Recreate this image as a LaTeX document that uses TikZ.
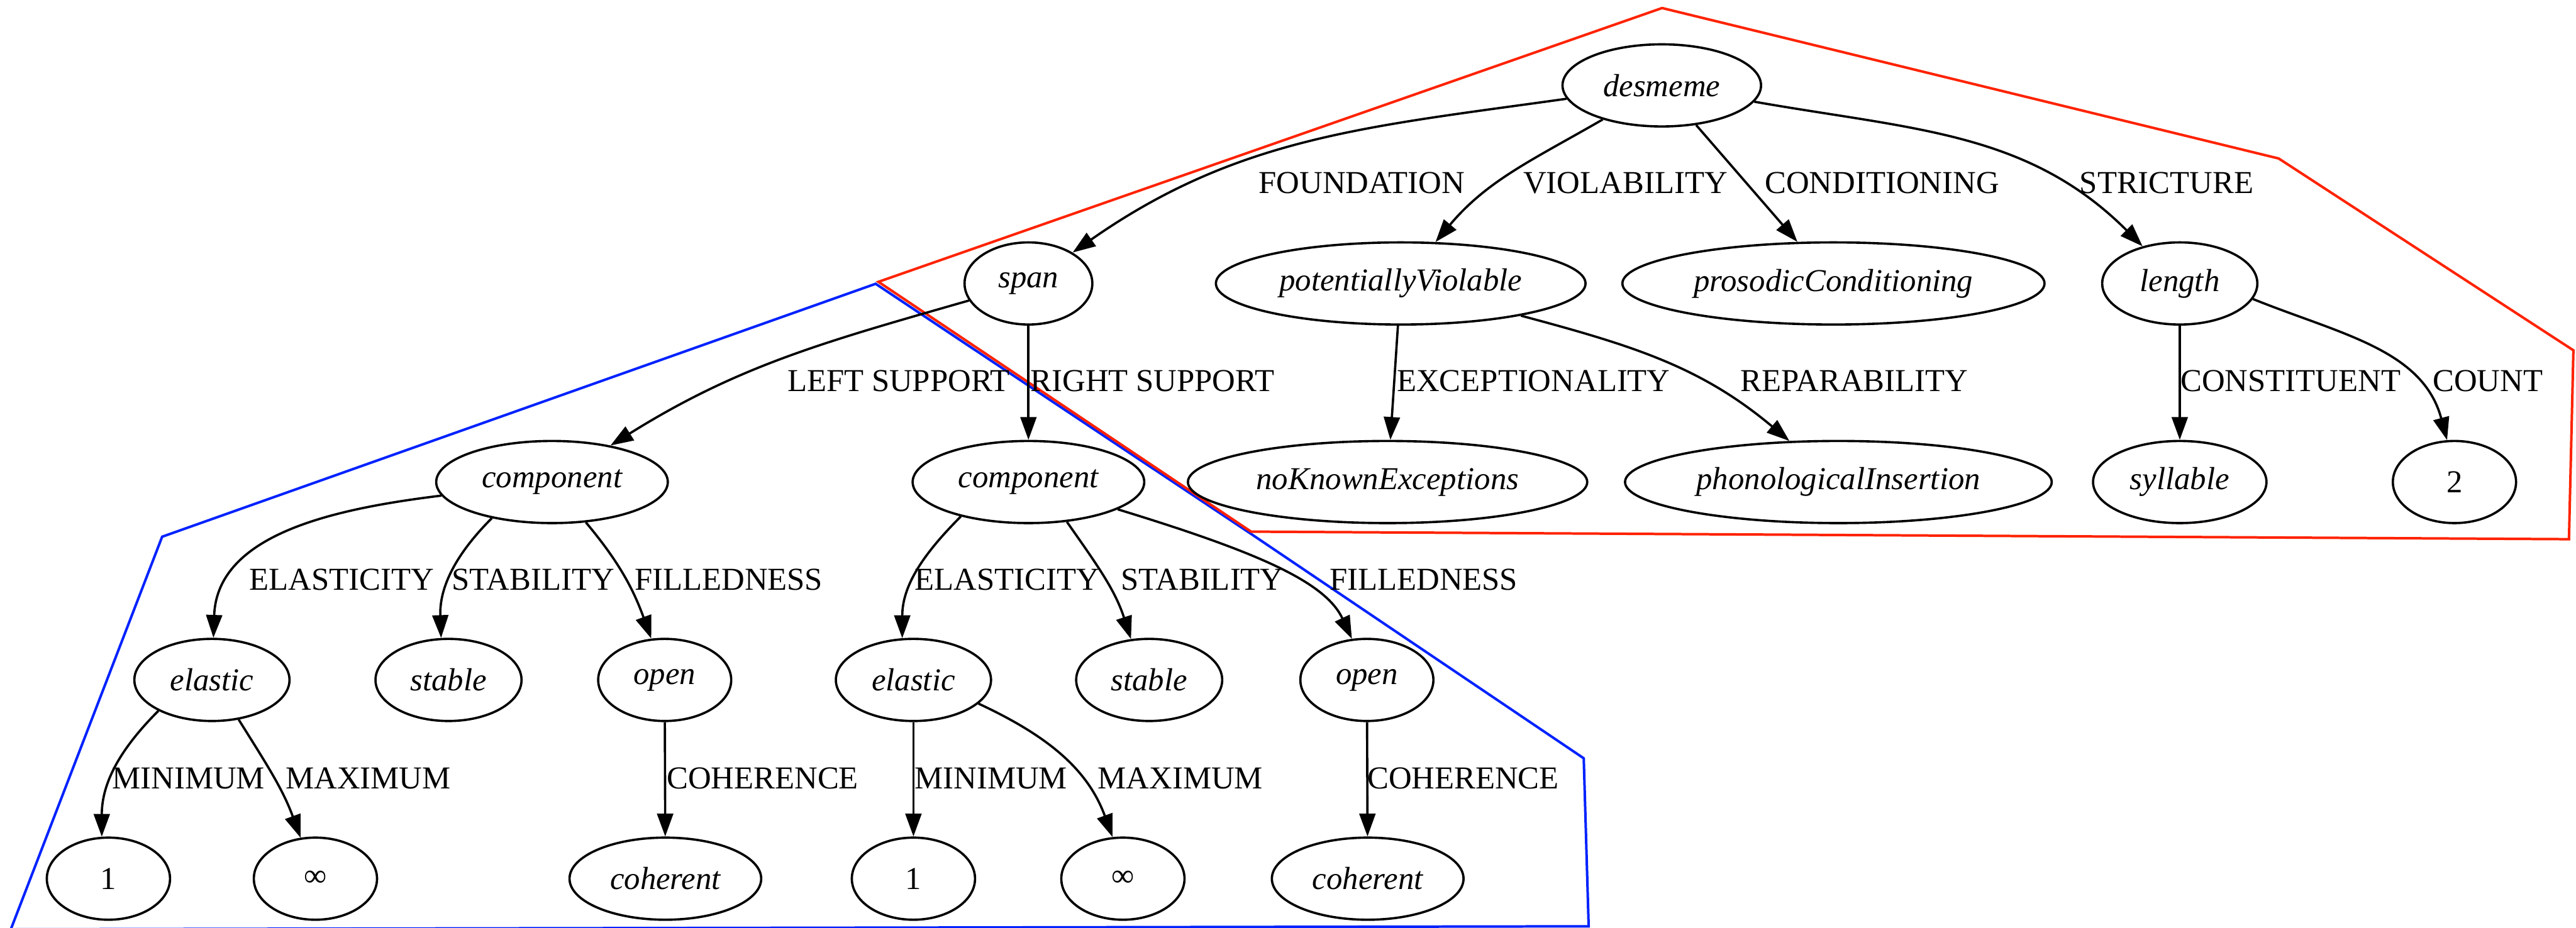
\documentclass[tikz,border=0pt]{standalone}
\usepackage{fontspec}
\setmainfont{Liberation Serif}
\usetikzlibrary{shapes.geometric,arrows.meta}
\definecolor{hullred}{RGB}{255,34,0}
\definecolor{hullblue}{RGB}{0,34,255}

\begin{document}
\begin{tikzpicture}[x=0.72pt,y=0.72pt,font=\fontsize{14}{16}\selectfont,
	ell/.style={ellipse,draw,line width=1pt,inner sep=0pt,minimum height=36pt,font=\fontsize{14}{16}\selectfont\itshape},
	num/.style={ell,font=\fontsize{14}{16}\selectfont},
	lbl/.style={anchor=west,inner sep=0pt},
	edge/.style={line width=1pt,-{Triangle[length=10pt,width=7pt]}},
	hull/.style={line width=1.1pt,line join=miter}]
	\useasboundingbox (0,0) rectangle (1568,565);

	\draw[hull,hullblue] (533,392.2) -- (98.7,238.2) -- (6.6,-0.8) -- (967,1.0) -- (964,103.3) -- (760.5,240.6) -- cycle;
	\draw[hull,hullred] (1011.7,560.1) -- (1387,468.5) -- (1566.4,351.7) -- (1563.7,236.7) -- (761.5,241.3) -- (534.7,393.4) -- cycle;

	\node (desmeme) at (1011.5,513) [ell,minimum width=87pt] {desmeme};
	\node (span) at (626,392.4) [ell,minimum width=56pt] {span};
	\node (violable) at (852.6,392.4) [ell,minimum width=162pt] {potentiallyViolable};
	\node (prosodic) at (1116,392.4) [ell,minimum width=185pt] {prosodicConditioning};
	\node (length) at (1326.8,392.4) [ell,minimum width=68pt] {length};

	\node (compL) at (336,271.5) [ell,minimum width=101.5pt] {component};
	\node (compR) at (626,271.5) [ell,minimum width=101.5pt] {component};
	\node (noexc) at (844.6,271.5) [ell,minimum width=175pt] {noKnownExceptions};
	\node (insert) at (1119,271.5) [ell,minimum width=187pt] {phonologicalInsertion};
	\node (syllable) at (1326.8,271.5) [ell,minimum width=76pt] {syllable};
	\node (two) at (1494,271.5) [num,minimum width=54pt] {2};

	\node (elasticL) at (129,151) [ell,minimum width=68pt] {elastic};
	\node (stableL) at (273,151) [ell,minimum width=64pt] {stable};
	\node (openL) at (404.6,151) [ell,minimum width=58.3pt] {open};
	\node (elasticR) at (556,151) [ell,minimum width=68pt] {elastic};
	\node (stableR) at (699.5,151) [ell,minimum width=64pt] {stable};
	\node (openR) at (832,151) [ell,minimum width=58.3pt] {open};

	\node (minL) at (66,30) [num,minimum width=54pt] {1};
	\node (maxL) at (192,30) [num,minimum width=54pt] {∞};
	\node (cohL) at (405,30) [ell,minimum width=84pt] {coherent};
	\node (minR) at (556,30) [num,minimum width=54pt] {1};
	\node (maxR) at (683.5,30) [num,minimum width=54pt] {∞};
	\node (cohR) at (832.5,30) [ell,minimum width=84pt] {coherent};

	\draw[edge] (desmeme) to[out=188,in=35] (span);
	\draw[edge] (desmeme) to[out=210,in=50] (violable);
	\draw[edge] (desmeme) -- (prosodic);
	\draw[edge] (desmeme) to[out=-10,in=135] (length);
	\draw[edge] (span) to[out=196,in=32] (compL);
	\draw[edge] (span) -- (compR);
	\draw[edge] (violable) -- (noexc);
	\draw[edge] (violable) to[out=-15,in=140] (insert);
	\draw[edge] (length) -- (syllable);
	\draw[edge] (length.-12) to[out=-22,in=105] (two.100);
	\draw[edge] (compL) to[out=187,in=88] (elasticL);
	\draw[edge] (compL.211) to[out=225,in=92] (stableL.100);
	\draw[edge] (compL.-50) to[out=-50,in=110] (openL.108);
	\draw[edge] (compR.207) to[out=225,in=90] (elasticR.105);
	\draw[edge] (compR.-46) to[out=-55,in=108] (stableR.114);
	\draw[edge] (compR.-17) to[out=-17,in=115,out looseness=1.4,in looseness=0.6] (openR.110);
	\draw[edge] (elasticL.210) to[out=225,in=90] (minL.99);
	\draw[edge] (elasticL.-56) to[out=-58,in=110] (maxL.110);
	\draw[edge] (openL) -- (cohL);
	\draw[edge] (elasticR) -- (minR);
	\draw[edge] (elasticR.-20) to[out=-25,in=110] (maxR.104);
	\draw[edge] (openR) -- (cohR);

	\node (fnd) [lbl] at (766,453.5) {FOUNDATION};
	\node (vio) [lbl] at (927,453.5) {VIOLABILITY};
	\node (cnd) [lbl] at (1074,453.5) {CONDITIONING};
	\node (str) [lbl] at (1265.6,453.5) {STRICTURE};
	\node (lsup) [lbl] at (479,333) {LEFT SUPPORT};
	\node (rsup) [lbl] at (627,333) {RIGHT SUPPORT};
	\node (exc) [lbl] at (850,333) {EXCEPTIONALITY};
	\node (rep) [lbl] at (1059,333) {REPARABILITY};
	\node (cst) [lbl] at (1327,333) {CONSTITUENT};
	\node (cnt) [lbl] at (1480.5,333) {COUNT};
	\node (elaL) [lbl] at (151.6,212) {ELASTICITY};
	\node (staL) [lbl] at (274.8,212) {STABILITY};
	\node (filL) [lbl] at (386,212) {FILLEDNESS};
	\node (elaR) [lbl] at (556.5,212) {ELASTICITY};
	\node (staR) [lbl] at (682,212) {STABILITY};
	\node (filR) [lbl] at (809,212) {FILLEDNESS};
	\node (minLl) [lbl] at (68,91.2) {MINIMUM};
	\node (maxLl) [lbl] at (173.6,91.2) {MAXIMUM};
	\node (cohLl) [lbl] at (405.6,91.2) {COHERENCE};
	\node (minRl) [lbl] at (556.5,91.2) {MINIMUM};
	\node (maxRl) [lbl] at (668,91.2) {MAXIMUM};
	\node (cohRl) [lbl] at (832,91.2) {COHERENCE};
\end{tikzpicture}
\end{document}
